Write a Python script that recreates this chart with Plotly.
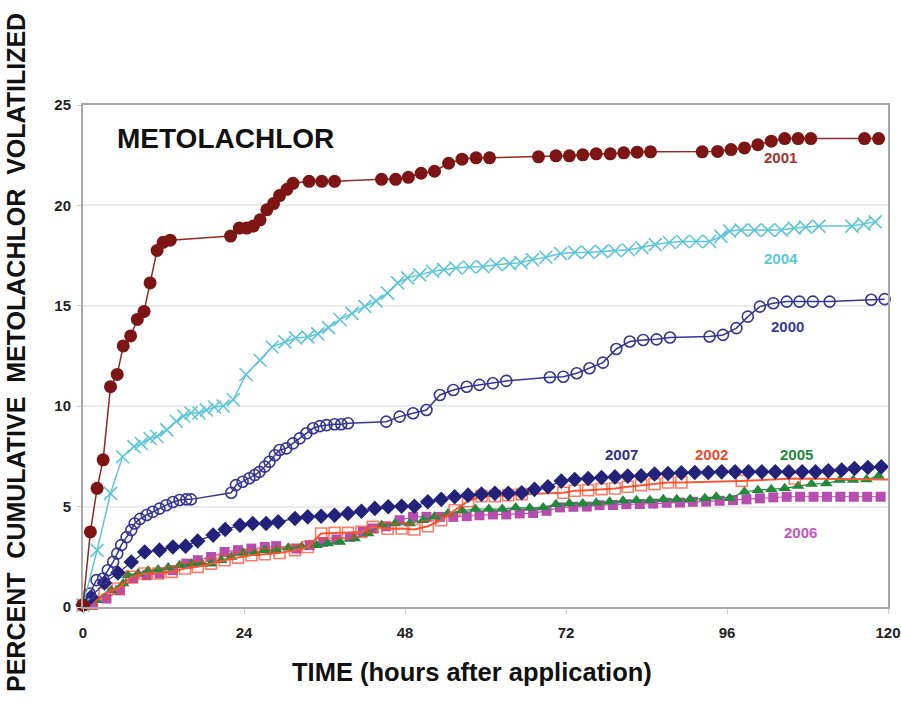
import plotly.graph_objects as go

# ---------------- data (hours after application, % cumulative volatilized) -------------
h2001 = [0, 1.1, 2.1, 3.0, 4.1, 5.1, 6.0, 7.1, 8.1, 9.1, 10.0, 11.05, 11.95, 13.0,
         22.0, 23.3, 24.4, 25.4, 26.4, 27.4, 28.4, 29.3, 30.4, 31.3, 33.7, 35.6, 37.5,
         44.5, 46.6, 48.5, 50.4, 52.4, 54.5, 56.5, 58.6, 60.6, 67.9, 70.5, 72.5, 74.5,
         76.5, 78.6, 80.6, 82.6, 84.6, 92.3, 94.6, 96.6, 98.6, 100.6, 102.6, 104.6,
         106.6, 108.5, 116.5, 118.6]
v2001 = [0.1, 3.74, 5.91, 7.33, 10.97, 11.58, 13.0, 13.5, 14.32, 14.72, 16.14, 17.76, 18.16, 18.27,
         18.47, 18.87, 18.87, 18.97, 19.28, 19.78, 20.09, 20.49, 20.8, 21.1, 21.2, 21.2, 21.2,
         21.3, 21.3, 21.4, 21.6, 21.7, 22.1, 22.3, 22.37, 22.37, 22.42, 22.47, 22.47, 22.52,
         22.57, 22.57, 22.62, 22.65, 22.67, 22.67, 22.69, 22.78, 22.86, 23.02, 23.2, 23.33,
         23.33, 23.33, 23.33, 23.33]

h2004 = [0, 2.1, 4.1, 5.9, 7.6, 8.7, 10.0, 11.0, 12.5, 13.9, 15.0, 16.1, 17.3, 18.4, 19.6,
         20.9, 22.4, 24.3, 26.4, 28.2, 30.1, 31.7, 33.5, 35.0, 36.6, 38.3, 40.1, 42.0, 43.7,
         45.4, 46.9, 48.4, 50.2, 52.1, 53.8, 55.6, 57.6, 59.6, 61.6, 63.6, 65.3, 67.0, 69.0,
         71.2, 73.3, 75.3, 77.3, 79.3, 81.3, 83.3, 85.3, 87.4, 89.4, 91.4, 93.4, 95.1, 96.4,
         98.1, 100.1, 102.1, 104.1, 106.0, 107.7, 109.7, 114.6, 116.4, 118.1]
v2004 = [0.1, 2.82, 5.66, 7.48, 7.99, 8.14, 8.39, 8.49, 8.82, 9.25, 9.51, 9.66, 9.66, 9.81, 9.96,
         10.01, 10.32, 11.58, 12.29, 12.95, 13.2, 13.4, 13.45, 13.6, 13.91, 14.32, 14.62, 14.97, 15.23,
         15.63, 16.14, 16.39, 16.54, 16.72, 16.8, 16.88, 16.93, 16.95, 17.05, 17.1, 17.15, 17.3, 17.42,
         17.6, 17.66, 17.66, 17.71, 17.74, 17.79, 17.9, 18.05, 18.15, 18.2, 18.2, 18.2, 18.46, 18.72,
         18.77, 18.77, 18.77, 18.77, 18.87, 18.92, 18.97, 18.97, 19.07, 19.18]

h2000 = [0, 1.0, 2.0, 3.0, 3.7, 4.5, 5.1, 5.7, 6.5, 7.2, 7.7, 8.5, 9.5, 10.4, 11.4, 12.4,
         13.4, 14.4, 15.4, 16.1, 22.1, 22.8, 23.8, 24.8, 25.6, 26.3, 27.1, 27.8, 28.6, 29.3,
         30.3, 31.3, 32.3, 33.3, 34.3, 35.3, 36.3, 37.5, 38.5, 39.5, 45.2, 47.2, 49.2, 51.2,
         53.2, 55.2, 57.2, 59.1, 61.1, 63.1, 69.6, 71.6, 73.6, 75.5, 77.5, 79.5, 81.5, 83.5,
         85.5, 87.5, 93.4, 95.4, 97.4, 99.1, 100.9, 102.9, 104.9, 106.8, 108.8, 111.3, 117.5, 119.5]
v2000 = [0.1, 0.67, 1.34, 1.42, 1.83, 2.25, 2.66, 3.08, 3.48, 3.83, 4.16, 4.39, 4.58, 4.74, 4.9, 5.07,
         5.23, 5.33, 5.36, 5.36, 5.69, 6.07, 6.24, 6.41, 6.57, 6.73, 6.99, 7.23, 7.56, 7.82,
         7.9, 8.15, 8.4, 8.65, 8.9, 9.01, 9.06, 9.1, 9.1, 9.15, 9.23, 9.48, 9.65, 9.81,
         10.56, 10.81, 10.97, 11.06, 11.14, 11.26, 11.44, 11.47, 11.64, 11.89, 12.17, 12.85, 13.22, 13.3,
         13.33, 13.42, 13.47, 13.55, 13.89, 14.46, 14.96, 15.13, 15.21, 15.21, 15.21, 15.21, 15.3, 15.33]

h2007 = [0, 1.2, 3.2, 5.2, 7.2, 9.2, 11.4, 13.4, 15.3, 17.1, 19.4, 21.2, 23.4, 25.3, 27.3, 29.1,
         31.6, 33.5, 35.5, 37.5, 39.5, 41.5, 43.5, 45.5, 47.5, 49.4, 51.4, 53.4, 55.4, 57.4,
         59.4, 61.4, 63.4, 65.4, 67.3, 69.3, 71.3, 73.3, 75.3, 77.3, 79.3, 81.2, 83.2, 85.2,
         87.2, 89.2, 91.2, 93.2, 95.2, 97.2, 99.2, 101.2, 103.2, 105.2, 107.2, 109.2, 111.1,
         113.1, 115.0, 117.0, 119.0]
v2007 = [0.1, 0.5, 1.2, 1.7, 2.24, 2.74, 2.83, 2.99, 3.03, 3.29, 3.58, 3.86, 4.07, 4.16, 4.16, 4.24,
         4.41, 4.49, 4.52, 4.57, 4.66, 4.77, 4.91, 4.99, 5.02, 5.02, 5.24, 5.36, 5.49, 5.57,
         5.62, 5.66, 5.66, 5.69, 5.86, 5.99, 6.27, 6.35, 6.4, 6.45, 6.48, 6.52, 6.53, 6.62,
         6.65, 6.68, 6.7, 6.7, 6.73, 6.73, 6.73, 6.73, 6.73, 6.73, 6.73, 6.73, 6.78,
         6.82, 6.9, 6.95, 6.98]

h2002 = [0, 1.25, 3.2, 5.2, 7.2, 9.2, 11.2, 13.2, 15.2, 17.1, 19.1, 21.1, 23.1, 25.1, 27.1,
         29.3, 31.6, 33.5, 35.5, 37.5, 39.5, 41.5, 43.2, 45.4, 47.5, 49.4, 51.4, 53.4, 55.4,
         57.4, 59.4, 61.4, 63.4, 65.4, 71.6, 73.3, 75.3, 77.3, 79.3, 81.2, 83.2, 85.2, 87.2,
         89.2, 98.2, 106.1, 120.5]
v2002 = [0.1, 0.17, 0.67, 0.92, 1.5, 1.67, 1.67, 1.75, 1.92, 2.0, 2.16, 2.33, 2.46, 2.58, 2.63,
         2.69, 2.83, 2.99, 3.66, 3.69, 3.69, 3.74, 3.99, 3.9, 3.91, 3.86, 4.02, 4.32, 4.82,
         5.27, 5.52, 5.52, 5.57, 5.62, 5.69, 5.79, 5.82, 5.87, 5.9, 5.99, 6.07, 6.12, 6.2,
         6.2, 6.28, 6.4, 6.35]

h2005 = [0, 2.0, 4.2, 6.0, 6.7, 8.2, 9.7, 11.2, 12.7, 14.4, 16.2, 17.7, 19.1, 20.6, 22.1,
         23.9, 25.6, 27.1, 28.8, 30.6, 32.6, 34.8, 36.5, 38.3, 40.5, 42.5, 44.5, 46.5, 48.7,
         50.7, 52.4, 54.4, 56.5, 58.5, 60.5, 62.5, 64.5, 66.6, 68.6, 70.5, 72.5, 74.5, 76.5,
         78.5, 80.5, 82.5, 84.5, 86.5, 88.5, 90.5, 92.7, 94.4, 96.4, 98.6, 100.6, 102.6,
         104.6, 106.6, 108.6, 110.8, 112.8, 114.8, 116.8, 118.6]
v2005 = [0.1, 0.33, 0.83, 1.17, 1.58, 1.67, 1.8, 1.87, 1.97, 2.08, 2.16, 2.16, 2.16, 2.33, 2.49,
         2.69, 2.69, 2.83, 2.83, 2.95, 3.0, 3.08, 3.16, 3.24, 3.41, 3.66, 4.07, 4.16, 4.16,
         4.32, 4.49, 4.66, 4.8, 4.88, 4.88, 4.88, 4.95, 4.93, 4.96, 5.12, 5.16, 5.16, 5.19,
         5.24, 5.29, 5.32, 5.32, 5.36, 5.36, 5.36, 5.41, 5.49, 5.41, 5.74, 5.82, 5.86,
         5.91, 6.02, 6.12, 6.15, 6.32, 6.32, 6.35, 6.52]

h2006 = [0, 1.5, 3.5, 5.5, 7.5, 9.5, 11.4, 13.4, 15.4, 17.1, 19.1, 21.1, 23.1, 25.1, 27.1,
         28.8, 31.8, 33.8, 35.8, 37.8, 39.8, 41.7, 43.2, 45.2, 47.2, 49.2, 51.2, 53.2, 55.2,
         57.2, 59.1, 61.1, 63.1, 65.1, 67.1, 69.1, 71.1, 73.1, 75.1, 77.0, 79.0, 81.0, 83.0,
         85.0, 87.0, 89.0, 90.9, 92.9, 94.9, 96.9, 98.9, 100.9, 102.9, 104.9, 106.9, 108.9,
         110.9, 112.9, 114.9, 116.9, 118.9]
v2006 = [0.1, 0.1, 0.42, 0.83, 1.42, 1.58, 1.67, 1.83, 2.16, 2.33, 2.49, 2.74, 2.83, 2.91, 2.99,
         3.03, 2.91, 3.08, 3.24, 3.36, 3.49, 3.74, 3.91, 4.02, 4.32, 4.49, 4.49, 4.49, 4.49,
         4.52, 4.57, 4.61, 4.61, 4.66, 4.68, 4.79, 4.96, 4.99, 5.0, 5.07, 5.08, 5.12, 5.13,
         5.15, 5.19, 5.2, 5.24, 5.25, 5.29, 5.32, 5.36, 5.41, 5.46, 5.49, 5.49, 5.49,
         5.49, 5.49, 5.49, 5.49, 5.49]

x_ticks = [0, 24, 48, 72, 96, 120]
y_ticks = [0, 5, 10, 15, 20, 25]

labels = [  # (text, x, y, colour)
    ("2001", 103.9, 22.38, "#a8302a"),
    ("2004", 104.0, 17.34, "#5cc8da"),
    ("2000", 105.0, 13.95, "#3a3a98"),
    ("2007", 80.3, 7.57, "#2e2e8e"),
    ("2002", 93.7, 7.57, "#ee4a2c"),
    ("2005", 106.4, 7.57, "#24883a"),
    ("2006", 107.0, 3.73, "#c256b8"),
]

FONT = "Arial, 'Liberation Sans', sans-serif"

fig = go.Figure()

def add(x, y, color, symbol, size, lcolor=None, lw=1.5, open_=False, sizes=None):
    marker = dict(symbol=symbol, size=sizes if sizes is not None else size, color=color)
    if open_:
        marker["line"] = dict(color=color, width=1.6)
    else:
        marker["line"] = dict(width=0)
    fig.add_trace(go.Scatter(x=x, y=y, mode="lines+markers",
                             line=dict(color=lcolor or color, width=lw),
                             marker=marker, showlegend=False, cliponaxis=False))

add(h2006, v2006, "#b84db0", "square", 10, lw=1.2)
add(h2005, v2005, "#1e8a3a", "triangle-up", 11, lw=1.2)
add(h2002, v2002, "#f2482a", "square-open", 11, lcolor="#f55a35", lw=2, open_=True,
    sizes=[11] * (len(h2002) - 1) + [0])
add(h2007, v2007, "#22227a", "diamond", 12, lw=1.2)
add(h2000, v2000, "#353594", "circle-open", 11, lw=1.5, open_=True)
add(h2004, v2004, "#5cc6d8", "x-thin", 13, lw=1.5, open_=True)
add(h2001, v2001, "#7e1515", "circle", 13, lcolor="#8e2a24", lw=1.5)

for text, x, y, c in labels:
    fig.add_annotation(x=x, y=y, text=text, showarrow=False,
                       font=dict(family=FONT, size=15, color=c, weight="bold"))

fig.add_annotation(x=0, y=1, xref="paper", yref="paper", xanchor="left", yanchor="middle",
                   xshift=32, yshift=-33, text="METOLACHLOR", showarrow=False,
                   font=dict(family=FONT, size=28, color="#111", weight="bold"))
fig.add_annotation(x=0, y=0.5, xref="paper", yref="paper", xanchor="center", yanchor="middle",
                   xshift=-67, yshift=3, textangle=-90, showarrow=False,
                   text="PERCENT&nbsp; CUMULATIVE&nbsp; METOLACHLOR&nbsp; VOLATILIZED",
                   font=dict(family=FONT, size=25, color="#111", weight="bold"))
fig.add_annotation(x=0.5, y=0, xref="paper", yref="paper", xanchor="center", yanchor="middle",
                   xshift=-14, yshift=-65, showarrow=False,
                   text="TIME (hours after application)",
                   font=dict(family=FONT, size=25.5, color="#111", weight="bold"))

fig.update_layout(
    width=901, height=706,
    margin=dict(l=83, r=13, t=105, b=99, autoexpand=False),
    paper_bgcolor="white", plot_bgcolor="white",
    font=dict(family=FONT),
)
fig.update_xaxes(range=[0, 120], tickvals=x_ticks, ticktext=[str(t) for t in x_ticks],
                 automargin=False,
                 showgrid=False, zeroline=False, showline=True, linecolor="#a8a8a8",
                 linewidth=2, mirror=True, ticks="outside", ticklen=5, tickcolor="#cccccc",
                 ticklabelstandoff=6,
                 tickfont=dict(family=FONT, size=15, color="#222", weight="bold"))
fig.update_yaxes(range=[0, 25], tickvals=y_ticks, ticktext=[str(t) for t in y_ticks],
                 automargin=False,
                 showgrid=True, gridcolor="#ebebeb", gridwidth=1.5, zeroline=False,
                 showline=True, linecolor="#a8a8a8", linewidth=2, mirror=True,
                 ticks="outside", ticklen=4, tickcolor="#cccccc", ticklabelstandoff=3,
                 tickfont=dict(family=FONT, size=15, color="#222", weight="bold"))

# remove the browser's default 8px page margin so the 901x706 figure fills the window exactly
fig.write_html("out.html", config={"displayModeBar": False},
               post_script="document.body.style.margin='0';document.body.style.overflow='hidden';")
